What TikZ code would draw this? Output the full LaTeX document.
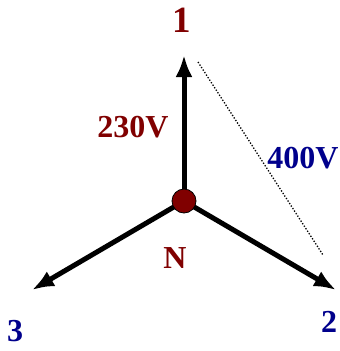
\documentclass[tikz,border=0pt]{standalone}
\usepackage{fontspec}
\setmainfont{Liberation Serif}
\usepackage{tikz}
\usetikzlibrary{arrows.meta}
\definecolor{phasered}{RGB}{128,0,0}
\definecolor{phaseblue}{RGB}{0,0,140}

\begin{document}
\begin{tikzpicture}[x=1pt,y=-1pt,
  phase/.style={-{Latex[length=22pt,width=17pt]},line width=5pt,black},
  lbl/.style={font=\fontsize{32}{36}\selectfont\bfseries,inner sep=0pt},
  neutral/.style={circle,draw=black,line width=0.8pt,fill=phasered,
    minimum size=24pt,inner sep=0pt}
]
\useasboundingbox (0,0) rectangle (340,351);

\coordinate (T1) at (184,55);
\coordinate (T2) at (336,290);
\coordinate (T3) at (32,290);
\coordinate (D1) at (198,62);
\coordinate (D2) at (323,255);

\draw[phase] (184,201) -- (T1);
\draw[phase] (184,201) -- (T2);
\draw[phase] (184,201) -- (T3);
\node[neutral] (N) at (184,201) {};

\draw[line width=1.3pt,dash pattern=on 1.3pt off 1.7pt] (D1) -- (D2);

\node[lbl,text=phasered,font=\fontsize{37}{40}\selectfont\bfseries] (l1) at (182,20) {1};
\node[lbl,text=phaseblue] (l2) at (329,322) {2};
\node[lbl,text=phaseblue] (l3) at (15,331) {3};
\node[lbl,text=phasered] (lN) at (175,258) {N};
\node[lbl,text=phasered] (v230) at (133,127) {230V};
\node[lbl,text=phaseblue] (v400) at (303,158) {400V};
\end{tikzpicture}
\end{document}
